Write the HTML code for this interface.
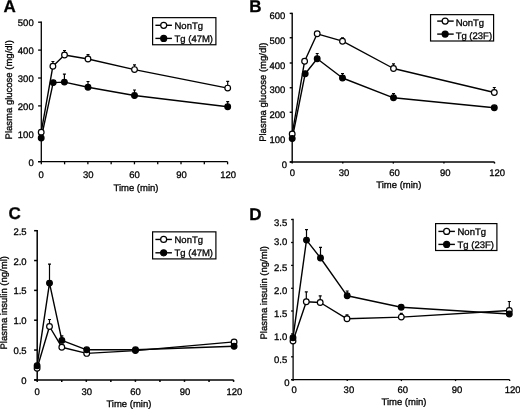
<!DOCTYPE html>
<html><head><meta charset="utf-8"><style>
html,body{margin:0;padding:0;background:#fff;}
svg{display:block;will-change:transform;opacity:0.995;}
text{font-family:"Liberation Sans",sans-serif;text-rendering:geometricPrecision;stroke:#000;stroke-width:0.3px;paint-order:stroke;}
</style></head><body>
<svg width="520" height="409" viewBox="0 0 520 409">
<rect width="520" height="409" fill="#fff"/>
<g stroke="#000" fill="none" stroke-linecap="butt">
<line x1="41.30" y1="21.55" x2="41.30" y2="161.70" stroke-width="1.3"/>
<line x1="38.10" y1="161.70" x2="227.60" y2="161.70" stroke-width="1.3"/>
<line x1="38.10" y1="161.70" x2="41.30" y2="161.70" stroke-width="1.3"/>
<line x1="38.10" y1="133.80" x2="41.30" y2="133.80" stroke-width="1.3"/>
<line x1="38.10" y1="105.90" x2="41.30" y2="105.90" stroke-width="1.3"/>
<line x1="38.10" y1="78.00" x2="41.30" y2="78.00" stroke-width="1.3"/>
<line x1="38.10" y1="50.10" x2="41.30" y2="50.10" stroke-width="1.3"/>
<line x1="38.10" y1="22.20" x2="41.30" y2="22.20" stroke-width="1.3"/>
<line x1="41.30" y1="161.70" x2="41.30" y2="164.30" stroke-width="1.3"/>
<line x1="64.59" y1="161.70" x2="64.59" y2="164.30" stroke-width="1.3"/>
<line x1="87.88" y1="161.70" x2="87.88" y2="164.30" stroke-width="1.3"/>
<line x1="111.16" y1="161.70" x2="111.16" y2="164.30" stroke-width="1.3"/>
<line x1="134.45" y1="161.70" x2="134.45" y2="164.30" stroke-width="1.3"/>
<line x1="157.74" y1="161.70" x2="157.74" y2="164.30" stroke-width="1.3"/>
<line x1="181.02" y1="161.70" x2="181.02" y2="164.30" stroke-width="1.3"/>
<line x1="204.31" y1="161.70" x2="204.31" y2="164.30" stroke-width="1.3"/>
<line x1="227.60" y1="161.70" x2="227.60" y2="164.30" stroke-width="1.3"/>
</g>
<g fill="#000">
<text x="33.70" y="165.90" font-size="9.5" text-anchor="end">0</text>
<text x="33.70" y="138.00" font-size="9.5" text-anchor="end">100</text>
<text x="33.70" y="110.10" font-size="9.5" text-anchor="end">200</text>
<text x="33.70" y="82.20" font-size="9.5" text-anchor="end">300</text>
<text x="33.70" y="54.30" font-size="9.5" text-anchor="end">400</text>
<text x="33.70" y="26.40" font-size="9.5" text-anchor="end">500</text>
<text x="41.15" y="177.80" font-size="9.5" text-anchor="middle">0</text>
<text x="88.20" y="177.80" font-size="9.5" text-anchor="middle">30</text>
<text x="134.45" y="177.80" font-size="9.5" text-anchor="middle">60</text>
<text x="181.50" y="177.80" font-size="9.5" text-anchor="middle">90</text>
<text x="228.10" y="177.80" font-size="9.5" text-anchor="middle">120</text>
<text x="136.00" y="190.80" font-size="9.5" text-anchor="middle">Time (min)</text>
<text x="0" y="0" font-size="9.5" text-anchor="middle" transform="translate(11.70,89.80) rotate(-90)">Plasma glucose (mg/dl)</text>
<text x="3.60" y="12.00" font-size="17" font-weight="bold">A</text>
</g>
<polyline points="41.20,132.20 52.90,66.20 64.50,55.00 88.00,59.00 134.50,69.60 227.70,88.10" fill="none" stroke="#000" stroke-width="1.4" stroke-linejoin="round"/>
<polyline points="41.20,138.00 53.20,82.60 64.40,82.10 88.00,87.20 134.50,95.50 227.70,106.80" fill="none" stroke="#000" stroke-width="1.4" stroke-linejoin="round"/>
<path d="M52.90,66.20V61.50M51.40,61.50H54.40" stroke="#000" stroke-width="1.2" fill="none"/>
<path d="M64.50,55.00V50.50M63.00,50.50H66.00" stroke="#000" stroke-width="1.2" fill="none"/>
<path d="M88.00,59.00V54.70M86.50,54.70H89.50" stroke="#000" stroke-width="1.2" fill="none"/>
<path d="M134.50,69.60V64.80M133.00,64.80H136.00" stroke="#000" stroke-width="1.2" fill="none"/>
<path d="M227.70,88.10V81.30M226.20,81.30H229.20" stroke="#000" stroke-width="1.2" fill="none"/>
<circle cx="41.20" cy="132.20" r="2.85" fill="#fff" stroke="#000" stroke-width="1.2"/>
<circle cx="52.90" cy="66.20" r="2.85" fill="#fff" stroke="#000" stroke-width="1.2"/>
<circle cx="64.50" cy="55.00" r="2.85" fill="#fff" stroke="#000" stroke-width="1.2"/>
<circle cx="88.00" cy="59.00" r="2.85" fill="#fff" stroke="#000" stroke-width="1.2"/>
<circle cx="134.50" cy="69.60" r="2.85" fill="#fff" stroke="#000" stroke-width="1.2"/>
<circle cx="227.70" cy="88.10" r="2.85" fill="#fff" stroke="#000" stroke-width="1.2"/>
<path d="M64.40,82.10V74.10M62.90,74.10H65.90" stroke="#000" stroke-width="1.2" fill="none"/>
<path d="M88.00,87.20V81.50M86.50,81.50H89.50" stroke="#000" stroke-width="1.2" fill="none"/>
<path d="M134.50,95.50V90.00M133.00,90.00H136.00" stroke="#000" stroke-width="1.2" fill="none"/>
<path d="M227.70,106.80V101.70M226.20,101.70H229.20" stroke="#000" stroke-width="1.2" fill="none"/>
<circle cx="41.20" cy="138.00" r="2.85" fill="#000" stroke="#000" stroke-width="1.2"/>
<circle cx="53.20" cy="82.60" r="2.85" fill="#000" stroke="#000" stroke-width="1.2"/>
<circle cx="64.40" cy="82.10" r="2.85" fill="#000" stroke="#000" stroke-width="1.2"/>
<circle cx="88.00" cy="87.20" r="2.85" fill="#000" stroke="#000" stroke-width="1.2"/>
<circle cx="134.50" cy="95.50" r="2.85" fill="#000" stroke="#000" stroke-width="1.2"/>
<circle cx="227.70" cy="106.80" r="2.85" fill="#000" stroke="#000" stroke-width="1.2"/>
<rect x="152.60" y="17.65" width="63.30" height="27.10" fill="#fff" stroke="#000" stroke-width="1.2"/>
<line x1="155.40" y1="25.30" x2="171.90" y2="25.30" stroke="#000" stroke-width="1.4"/>
<circle cx="163.70" cy="25.30" r="3.0" fill="#fff" stroke="#000" stroke-width="1.2"/>
<text x="174.50" y="28.60" font-size="9.5" fill="#000">NonTg</text>
<line x1="155.40" y1="38.40" x2="171.90" y2="38.40" stroke="#000" stroke-width="1.4"/>
<circle cx="163.70" cy="38.40" r="3.0" fill="#000" stroke="#000" stroke-width="1.2"/>
<text x="174.50" y="42.10" font-size="9.5" fill="#000">Tg (47M)</text>
<g stroke="#000" fill="none" stroke-linecap="butt">
<line x1="292.20" y1="12.80" x2="292.20" y2="162.00" stroke-width="1.4"/>
<line x1="289.80" y1="162.00" x2="494.50" y2="162.00" stroke-width="1.4"/>
<line x1="289.70" y1="162.00" x2="292.20" y2="162.00" stroke-width="1.4"/>
<line x1="289.70" y1="137.10" x2="292.20" y2="137.10" stroke-width="1.4"/>
<line x1="289.70" y1="112.25" x2="292.20" y2="112.25" stroke-width="1.4"/>
<line x1="289.70" y1="87.75" x2="292.20" y2="87.75" stroke-width="1.4"/>
<line x1="289.70" y1="63.00" x2="292.20" y2="63.00" stroke-width="1.4"/>
<line x1="289.70" y1="37.75" x2="292.20" y2="37.75" stroke-width="1.4"/>
<line x1="289.70" y1="13.40" x2="292.20" y2="13.40" stroke-width="1.4"/>
<line x1="292.20" y1="162.00" x2="292.20" y2="163.60" stroke-width="1.4"/>
<line x1="342.77" y1="162.00" x2="342.77" y2="163.60" stroke-width="1.4"/>
<line x1="393.35" y1="162.00" x2="393.35" y2="163.60" stroke-width="1.4"/>
<line x1="443.92" y1="162.00" x2="443.92" y2="163.60" stroke-width="1.4"/>
<line x1="494.50" y1="162.00" x2="494.50" y2="163.60" stroke-width="1.4"/>
</g>
<g fill="#000">
<text x="287.10" y="168.00" font-size="9.5" text-anchor="end">0</text>
<text x="285.40" y="143.00" font-size="9.5" text-anchor="end">100</text>
<text x="285.40" y="118.00" font-size="9.5" text-anchor="end">200</text>
<text x="285.40" y="93.20" font-size="9.5" text-anchor="end">300</text>
<text x="285.40" y="68.50" font-size="9.5" text-anchor="end">400</text>
<text x="285.40" y="43.50" font-size="9.5" text-anchor="end">500</text>
<text x="285.40" y="19.20" font-size="9.5" text-anchor="end">600</text>
<text x="292.50" y="175.70" font-size="9.5" text-anchor="middle">0</text>
<text x="344.00" y="175.70" font-size="9.5" text-anchor="middle">30</text>
<text x="394.60" y="175.70" font-size="9.5" text-anchor="middle">60</text>
<text x="445.20" y="175.70" font-size="9.5" text-anchor="middle">90</text>
<text x="497.10" y="175.70" font-size="9.5" text-anchor="middle">120</text>
<text x="398.80" y="188.30" font-size="9.5" text-anchor="middle">Time (min)</text>
<text x="0" y="0" font-size="9.5" text-anchor="middle" transform="translate(266.40,92.20) rotate(-90)">Plasma glucose (mg/dl)</text>
<text x="249.20" y="11.80" font-size="17" font-weight="bold">B</text>
</g>
<polyline points="292.20,134.00 304.60,61.20 317.20,33.80 342.50,41.20 393.50,68.50 494.30,92.50" fill="none" stroke="#000" stroke-width="1.4" stroke-linejoin="round"/>
<polyline points="292.20,138.50 305.20,73.70 317.20,58.80 342.50,78.00 393.50,97.80 494.30,107.80" fill="none" stroke="#000" stroke-width="1.4" stroke-linejoin="round"/>
<path d="M342.50,41.20V37.80M341.00,37.80H344.00" stroke="#000" stroke-width="1.2" fill="none"/>
<path d="M393.50,68.50V63.80M392.00,63.80H395.00" stroke="#000" stroke-width="1.2" fill="none"/>
<path d="M494.30,92.50V87.50M492.80,87.50H495.80" stroke="#000" stroke-width="1.2" fill="none"/>
<circle cx="292.20" cy="134.00" r="2.85" fill="#fff" stroke="#000" stroke-width="1.2"/>
<circle cx="304.60" cy="61.20" r="2.85" fill="#fff" stroke="#000" stroke-width="1.2"/>
<circle cx="317.20" cy="33.80" r="2.85" fill="#fff" stroke="#000" stroke-width="1.2"/>
<circle cx="342.50" cy="41.20" r="2.85" fill="#fff" stroke="#000" stroke-width="1.2"/>
<circle cx="393.50" cy="68.50" r="2.85" fill="#fff" stroke="#000" stroke-width="1.2"/>
<circle cx="494.30" cy="92.50" r="2.85" fill="#fff" stroke="#000" stroke-width="1.2"/>
<path d="M317.20,58.80V53.50M315.70,53.50H318.70" stroke="#000" stroke-width="1.2" fill="none"/>
<path d="M342.50,78.00V73.50M341.00,73.50H344.00" stroke="#000" stroke-width="1.2" fill="none"/>
<path d="M393.50,97.80V93.50M392.00,93.50H395.00" stroke="#000" stroke-width="1.2" fill="none"/>
<circle cx="292.20" cy="138.50" r="2.85" fill="#000" stroke="#000" stroke-width="1.2"/>
<circle cx="305.20" cy="73.70" r="2.85" fill="#000" stroke="#000" stroke-width="1.2"/>
<circle cx="317.20" cy="58.80" r="2.85" fill="#000" stroke="#000" stroke-width="1.2"/>
<circle cx="342.50" cy="78.00" r="2.85" fill="#000" stroke="#000" stroke-width="1.2"/>
<circle cx="393.50" cy="97.80" r="2.85" fill="#000" stroke="#000" stroke-width="1.2"/>
<circle cx="494.30" cy="107.80" r="2.85" fill="#000" stroke="#000" stroke-width="1.2"/>
<rect x="430.55" y="14.65" width="63.05" height="26.35" fill="#fff" stroke="#000" stroke-width="1.2"/>
<line x1="437.20" y1="21.10" x2="453.70" y2="21.10" stroke="#000" stroke-width="1.4"/>
<circle cx="445.15" cy="21.10" r="3.0" fill="#fff" stroke="#000" stroke-width="1.2"/>
<text x="455.65" y="25.60" font-size="9.5" fill="#000">NonTg</text>
<line x1="437.20" y1="34.10" x2="453.70" y2="34.10" stroke="#000" stroke-width="1.4"/>
<circle cx="445.15" cy="34.10" r="3.0" fill="#000" stroke="#000" stroke-width="1.2"/>
<text x="455.65" y="39.10" font-size="9.5" fill="#000">Tg (23F)</text>
<g stroke="#000" fill="none" stroke-linecap="butt">
<line x1="37.20" y1="229.95" x2="37.20" y2="379.90" stroke-width="1.5"/>
<line x1="34.20" y1="379.90" x2="233.60" y2="379.90" stroke-width="1.5"/>
<line x1="34.10" y1="379.90" x2="37.20" y2="379.90" stroke-width="1.5"/>
<line x1="34.10" y1="350.06" x2="37.20" y2="350.06" stroke-width="1.5"/>
<line x1="34.10" y1="320.22" x2="37.20" y2="320.22" stroke-width="1.5"/>
<line x1="34.10" y1="290.38" x2="37.20" y2="290.38" stroke-width="1.5"/>
<line x1="34.10" y1="260.54" x2="37.20" y2="260.54" stroke-width="1.5"/>
<line x1="34.10" y1="230.70" x2="37.20" y2="230.70" stroke-width="1.5"/>
<line x1="37.20" y1="379.90" x2="37.20" y2="381.90" stroke-width="1.5"/>
<line x1="61.75" y1="379.90" x2="61.75" y2="381.90" stroke-width="1.5"/>
<line x1="86.30" y1="379.90" x2="86.30" y2="381.90" stroke-width="1.5"/>
<line x1="110.85" y1="379.90" x2="110.85" y2="381.90" stroke-width="1.5"/>
<line x1="135.40" y1="379.90" x2="135.40" y2="381.90" stroke-width="1.5"/>
<line x1="159.95" y1="379.90" x2="159.95" y2="381.90" stroke-width="1.5"/>
<line x1="184.50" y1="379.90" x2="184.50" y2="381.90" stroke-width="1.5"/>
<line x1="209.05" y1="379.90" x2="209.05" y2="381.90" stroke-width="1.5"/>
<line x1="233.60" y1="379.90" x2="233.60" y2="381.90" stroke-width="1.5"/>
</g>
<g fill="#000">
<text x="26.60" y="383.90" font-size="9.5" text-anchor="end">0</text>
<text x="26.60" y="354.06" font-size="9.5" text-anchor="end">0.5</text>
<text x="26.60" y="324.22" font-size="9.5" text-anchor="end">1.0</text>
<text x="26.60" y="294.38" font-size="9.5" text-anchor="end">1.5</text>
<text x="26.60" y="264.54" font-size="9.5" text-anchor="end">2.0</text>
<text x="26.60" y="234.70" font-size="9.5" text-anchor="end">2.5</text>
<text x="37.20" y="394.90" font-size="9.5" text-anchor="middle">0</text>
<text x="86.80" y="394.90" font-size="9.5" text-anchor="middle">30</text>
<text x="135.60" y="394.90" font-size="9.5" text-anchor="middle">60</text>
<text x="185.10" y="394.90" font-size="9.5" text-anchor="middle">90</text>
<text x="234.40" y="394.90" font-size="9.5" text-anchor="middle">120</text>
<text x="128.90" y="406.80" font-size="9.5" text-anchor="middle">Time (min)</text>
<text x="0" y="0" font-size="9.5" text-anchor="middle" transform="translate(7.00,302.80) rotate(-90)">Plasma insulin (ng/ml)</text>
<text x="8.40" y="218.60" font-size="17" font-weight="bold">C</text>
</g>
<polyline points="37.10,368.20 49.50,326.50 61.80,347.20 86.70,353.40 135.40,350.60 234.10,341.90" fill="none" stroke="#000" stroke-width="1.4" stroke-linejoin="round"/>
<polyline points="37.10,365.80 49.50,283.10 61.90,340.40 86.70,349.80 135.50,349.80 234.10,346.30" fill="none" stroke="#000" stroke-width="1.4" stroke-linejoin="round"/>
<path d="M49.50,326.50V319.50M48.00,319.50H51.00" stroke="#000" stroke-width="1.2" fill="none"/>
<circle cx="37.10" cy="368.20" r="2.85" fill="#fff" stroke="#000" stroke-width="1.2"/>
<circle cx="49.50" cy="326.50" r="2.85" fill="#fff" stroke="#000" stroke-width="1.2"/>
<circle cx="61.80" cy="347.20" r="2.85" fill="#fff" stroke="#000" stroke-width="1.2"/>
<circle cx="86.70" cy="353.40" r="2.85" fill="#fff" stroke="#000" stroke-width="1.2"/>
<circle cx="135.40" cy="350.60" r="2.85" fill="#fff" stroke="#000" stroke-width="1.2"/>
<circle cx="234.10" cy="341.90" r="2.85" fill="#fff" stroke="#000" stroke-width="1.2"/>
<path d="M49.50,283.10V264.20M48.00,264.20H51.00" stroke="#000" stroke-width="1.2" fill="none"/>
<path d="M61.90,340.40V335.80M60.40,335.80H63.40" stroke="#000" stroke-width="1.2" fill="none"/>
<circle cx="37.10" cy="365.80" r="2.85" fill="#000" stroke="#000" stroke-width="1.2"/>
<circle cx="49.50" cy="283.10" r="2.85" fill="#000" stroke="#000" stroke-width="1.2"/>
<circle cx="61.90" cy="340.40" r="2.85" fill="#000" stroke="#000" stroke-width="1.2"/>
<circle cx="86.70" cy="349.80" r="2.85" fill="#000" stroke="#000" stroke-width="1.2"/>
<circle cx="135.50" cy="349.80" r="2.85" fill="#000" stroke="#000" stroke-width="1.2"/>
<circle cx="234.10" cy="346.30" r="2.85" fill="#000" stroke="#000" stroke-width="1.2"/>
<rect x="152.60" y="231.85" width="63.30" height="27.05" fill="#fff" stroke="#000" stroke-width="1.2"/>
<line x1="155.40" y1="239.45" x2="171.90" y2="239.45" stroke="#000" stroke-width="1.4"/>
<circle cx="163.65" cy="239.45" r="3.0" fill="#fff" stroke="#000" stroke-width="1.2"/>
<text x="174.50" y="242.75" font-size="9.5" fill="#000">NonTg</text>
<line x1="155.40" y1="252.80" x2="171.90" y2="252.80" stroke="#000" stroke-width="1.4"/>
<circle cx="163.65" cy="252.80" r="3.0" fill="#000" stroke="#000" stroke-width="1.2"/>
<text x="174.50" y="256.30" font-size="9.5" fill="#000">Tg (47M)</text>
<g stroke="#000" fill="none" stroke-linecap="butt">
<line x1="293.10" y1="218.85" x2="293.10" y2="379.70" stroke-width="1.3"/>
<line x1="291.10" y1="379.70" x2="509.70" y2="379.70" stroke-width="1.3"/>
<line x1="291.10" y1="379.70" x2="293.10" y2="379.70" stroke-width="1.3"/>
<line x1="291.10" y1="356.80" x2="293.10" y2="356.80" stroke-width="1.3"/>
<line x1="291.10" y1="333.90" x2="293.10" y2="333.90" stroke-width="1.3"/>
<line x1="291.10" y1="311.00" x2="293.10" y2="311.00" stroke-width="1.3"/>
<line x1="291.10" y1="288.30" x2="293.10" y2="288.30" stroke-width="1.3"/>
<line x1="291.10" y1="265.40" x2="293.10" y2="265.40" stroke-width="1.3"/>
<line x1="291.10" y1="242.50" x2="293.10" y2="242.50" stroke-width="1.3"/>
<line x1="291.10" y1="219.50" x2="293.10" y2="219.50" stroke-width="1.3"/>
<line x1="293.10" y1="379.70" x2="293.10" y2="381.10" stroke-width="1.3"/>
<line x1="347.25" y1="379.70" x2="347.25" y2="381.10" stroke-width="1.3"/>
<line x1="401.40" y1="379.70" x2="401.40" y2="381.10" stroke-width="1.3"/>
<line x1="455.55" y1="379.70" x2="455.55" y2="381.10" stroke-width="1.3"/>
<line x1="509.70" y1="379.70" x2="509.70" y2="381.10" stroke-width="1.3"/>
</g>
<g fill="#000">
<text x="289.60" y="385.50" font-size="9.5" text-anchor="end">0</text>
<text x="287.20" y="363.00" font-size="9.5" text-anchor="end">0.5</text>
<text x="287.20" y="339.80" font-size="9.5" text-anchor="end">1.0</text>
<text x="287.20" y="317.30" font-size="9.5" text-anchor="end">1.5</text>
<text x="287.20" y="294.20" font-size="9.5" text-anchor="end">2.0</text>
<text x="287.20" y="271.40" font-size="9.5" text-anchor="end">2.5</text>
<text x="287.20" y="245.40" font-size="9.5" text-anchor="end">3.0</text>
<text x="287.20" y="225.60" font-size="9.5" text-anchor="end">3.5</text>
<text x="294.10" y="393.30" font-size="9.5" text-anchor="middle">0</text>
<text x="348.90" y="393.30" font-size="9.5" text-anchor="middle">30</text>
<text x="402.85" y="393.30" font-size="9.5" text-anchor="middle">60</text>
<text x="457.00" y="393.30" font-size="9.5" text-anchor="middle">90</text>
<text x="512.70" y="393.30" font-size="9.5" text-anchor="middle">120</text>
<text x="404.00" y="405.30" font-size="9.5" text-anchor="middle">Time (min)</text>
<text x="0" y="0" font-size="9.5" text-anchor="middle" transform="translate(267.00,292.80) rotate(-90)">Plasma insulin (ng/ml)</text>
<text x="249.30" y="219.60" font-size="17" font-weight="bold">D</text>
</g>
<polyline points="293.00,341.00 306.30,301.80 320.20,302.50 347.00,318.80 401.30,317.10 509.30,310.50" fill="none" stroke="#000" stroke-width="1.4" stroke-linejoin="round"/>
<polyline points="293.00,337.80 306.50,240.10 320.50,258.00 347.20,295.80 401.20,307.20 509.30,314.00" fill="none" stroke="#000" stroke-width="1.4" stroke-linejoin="round"/>
<path d="M306.30,301.80V291.80M304.80,291.80H307.80" stroke="#000" stroke-width="1.2" fill="none"/>
<path d="M320.20,302.50V295.80M318.70,295.80H321.70" stroke="#000" stroke-width="1.2" fill="none"/>
<path d="M347.00,318.80V314.80M345.50,314.80H348.50" stroke="#000" stroke-width="1.2" fill="none"/>
<path d="M401.30,317.10V313.40M399.80,313.40H402.80" stroke="#000" stroke-width="1.2" fill="none"/>
<path d="M509.30,310.50V301.50M507.80,301.50H510.80" stroke="#000" stroke-width="1.2" fill="none"/>
<circle cx="293.00" cy="341.00" r="2.85" fill="#fff" stroke="#000" stroke-width="1.2"/>
<circle cx="306.30" cy="301.80" r="2.85" fill="#fff" stroke="#000" stroke-width="1.2"/>
<circle cx="320.20" cy="302.50" r="2.85" fill="#fff" stroke="#000" stroke-width="1.2"/>
<circle cx="347.00" cy="318.80" r="2.85" fill="#fff" stroke="#000" stroke-width="1.2"/>
<circle cx="401.30" cy="317.10" r="2.85" fill="#fff" stroke="#000" stroke-width="1.2"/>
<circle cx="509.30" cy="310.50" r="2.85" fill="#fff" stroke="#000" stroke-width="1.2"/>
<path d="M306.50,240.10V229.60M305.00,229.60H308.00" stroke="#000" stroke-width="1.2" fill="none"/>
<path d="M320.50,258.00V247.30M319.00,247.30H322.00" stroke="#000" stroke-width="1.2" fill="none"/>
<path d="M347.20,295.80V291.00M345.70,291.00H348.70" stroke="#000" stroke-width="1.2" fill="none"/>
<circle cx="293.00" cy="337.80" r="2.85" fill="#000" stroke="#000" stroke-width="1.2"/>
<circle cx="306.50" cy="240.10" r="2.85" fill="#000" stroke="#000" stroke-width="1.2"/>
<circle cx="320.50" cy="258.00" r="2.85" fill="#000" stroke="#000" stroke-width="1.2"/>
<circle cx="347.20" cy="295.80" r="2.85" fill="#000" stroke="#000" stroke-width="1.2"/>
<circle cx="401.20" cy="307.20" r="2.85" fill="#000" stroke="#000" stroke-width="1.2"/>
<circle cx="509.30" cy="314.00" r="2.85" fill="#000" stroke="#000" stroke-width="1.2"/>
<rect x="435.60" y="223.60" width="61.30" height="26.90" fill="#fff" stroke="#000" stroke-width="1.2"/>
<line x1="438.40" y1="231.40" x2="454.90" y2="231.40" stroke="#000" stroke-width="1.4"/>
<circle cx="446.65" cy="231.40" r="3.0" fill="#fff" stroke="#000" stroke-width="1.2"/>
<text x="457.50" y="234.75" font-size="9.5" fill="#000">NonTg</text>
<line x1="438.40" y1="244.40" x2="454.90" y2="244.40" stroke="#000" stroke-width="1.4"/>
<circle cx="446.65" cy="244.40" r="3.0" fill="#000" stroke="#000" stroke-width="1.2"/>
<text x="457.50" y="248.30" font-size="9.5" fill="#000">Tg (23F)</text>
</svg>
</body></html>
